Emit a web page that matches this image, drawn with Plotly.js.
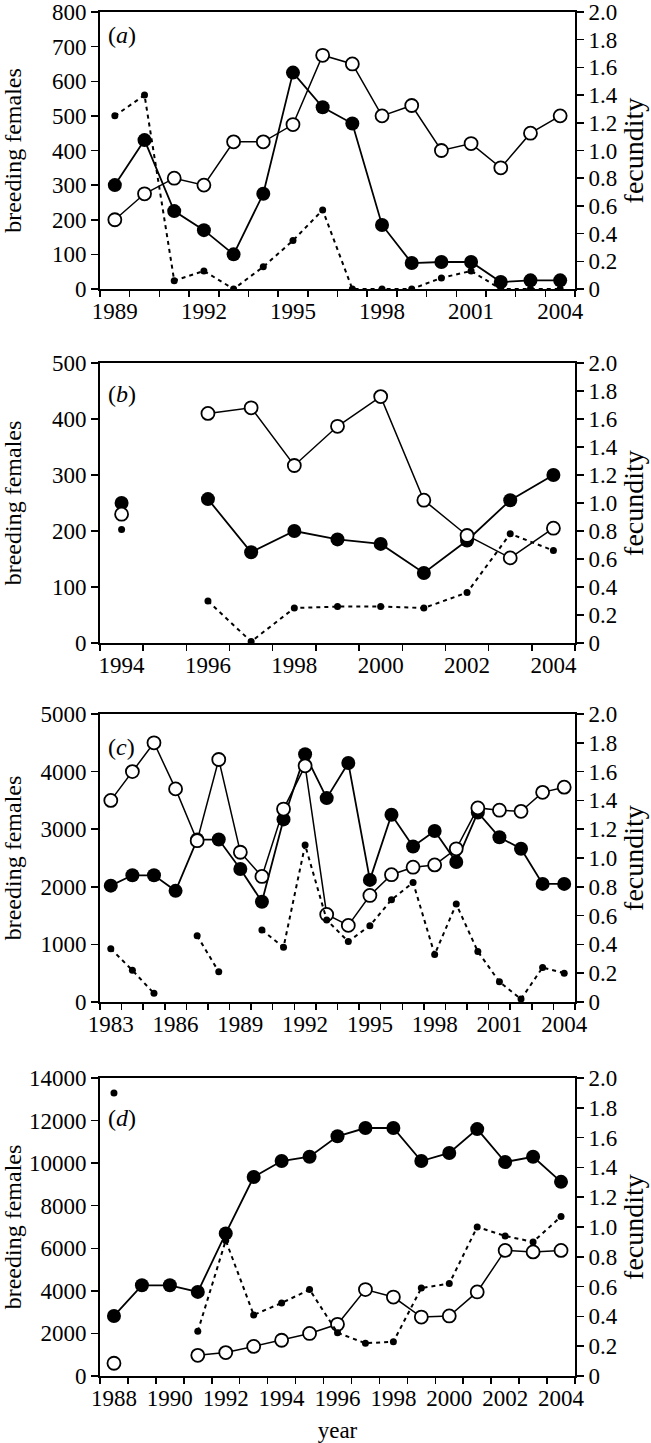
<!DOCTYPE html>
<html>
<head>
<meta charset="utf-8">
<script src="https://cdn.plot.ly/plotly-3.0.1.min.js"></script>
<style>body { margin: 0; background: #fff; }</style>
</head>
<body>
<div id="chart" style="width:651px;height:1443px;"></div>
<script>
// Four panels: breeding females (filled + open circles) and fecundity (dots, dashed).

// (a)
const yearsA = [1989, 1990, 1991, 1992, 1993, 1994, 1995, 1996, 1997, 1998, 1999, 2000, 2001, 2002, 2003, 2004];
const filledA = [300, 430, 225, 170, 100, 275, 625, 525, 478, 185, 75, 78, 78, 20, 25, 25];
const openA   = [200, 275, 320, 300, 425, 425, 475, 675, 650, 500, 530, 400, 420, 350, 450, 500];
const fecA    = [1.25, 1.40, 0.06, 0.13, 0, 0.16, 0.35, 0.57, 0, 0, 0, 0.08, 0.13, 0, 0, 0];

// (b)
const yearsB = [1994, 1995, 1996, 1997, 1998, 1999, 2000, 2001, 2002, 2003, 2004];
const filledB = [250, null, 257, 162, 200, 185, 177, 125, 183, 255, 300];
const openB   = [230, null, 410, 420, 317, 387, 440, 255, 192, 152, 205];
const fecB    = [0.81, null, 0.30, 0.01, 0.25, 0.26, 0.26, 0.25, 0.36, 0.78, 0.66];

// (c)
const yearsC = [1983, 1984, 1985, 1986, 1987, 1988, 1989, 1990, 1991, 1992, 1993, 1994, 1995,
                1996, 1997, 1998, 1999, 2000, 2001, 2002, 2003, 2004];
const filledC = [2020, 2200, 2200, 1930, 2820, 2820, 2310, 1740, 3170, 4300, 3540, 4150, 2120,
                 3250, 2700, 2970, 2430, 3290, 2860, 2660, 2050, 2050];
const openC   = [3500, 4000, 4500, 3700, 2800, 4210, 2600, 2180, 3350, 4100, 1520, 1330, 1850,
                 2210, 2340, 2380, 2660, 3370, 3330, 3310, 3640, 3730];
const fecC    = [0.37, 0.22, 0.06, null, 0.46, 0.21, null, 0.50, 0.38, 1.09, 0.57, 0.42, 0.53,
                 0.71, 0.83, 0.33, 0.68, 0.35, 0.14, 0.02, 0.24, 0.20];

// (d)
const yearsD = [1988, 1989, 1990, 1991, 1992, 1993, 1994, 1995, 1996, 1997, 1998, 1999, 2000,
                2001, 2002, 2003, 2004];
const filledD = [2820, 4260, 4260, 3950, 6700, 9350, 10100, 10300, 11260, 11650, 11650, 10100, 10480,
                 11600, 10050, 10300, 9120];
const openD   = [600, null, null, 970, 1100, 1390, 1680, 2000, 2430, 4060, 3710, 2770, 2820,
                 3950, 5900, 5830, 5900];
const fecD    = [1.90, null, null, 0.30, 0.91, 0.41, 0.49, 0.58, 0.29, 0.22, 0.23, 0.59, 0.62,
                 1.00, 0.94, 0.90, 1.07];

const fecTicks = [0, 0.2, 0.4, 0.6, 0.8, 1.0, 1.2, 1.4, 1.6, 1.8, 2.0];
const fecTickText = ["0", "0.2", "0.4", "0.6", "0.8", "1.0", "1.2", "1.4", "1.6", "1.8", "2.0"];

const FONT = "Liberation Serif";
const BLACK = "#000";

function panelTraces(n, years, filled, open, fec) {
  const xa = n === 1 ? "x" : "x" + n;
  const yl = n === 1 ? "y" : "y" + (2 * n - 1);
  const yr = "y" + (2 * n);
  return [
    { x: years, y: fec, xaxis: xa, yaxis: yr, type: "scatter", mode: "lines+markers",
      line: { color: BLACK, width: 2, dash: "4px,4px" },
      marker: { color: BLACK, size: 7 }, hoverinfo: "skip" },
    { x: years, y: filled, xaxis: xa, yaxis: yl, type: "scatter", mode: "lines+markers",
      line: { color: BLACK, width: 1.8 },
      marker: { color: BLACK, size: 14 }, hoverinfo: "skip" },
    { x: years, y: open, xaxis: xa, yaxis: yl, type: "scatter", mode: "lines+markers",
      line: { color: BLACK, width: 1.5 },
      marker: { color: "#fff", size: 13, line: { color: BLACK, width: 1.8 } }, hoverinfo: "skip" },
  ];
}

const data = [
  ...panelTraces(1, yearsA, filledA, openA, fecA),
  ...panelTraces(2, yearsB, filledB, openB, fecB),
  ...panelTraces(3, yearsC, filledC, openC, fecC),
  ...panelTraces(4, yearsD, filledD, openD, fecD),
];

const tickFont = { family: FONT, size: 23, color: BLACK };
const leftTitleFont = { family: FONT, size: 24, color: BLACK };
const rightTitleFont = { family: FONT, size: 28, color: BLACK };

function xAxis(range, labels, yanchor) {
  return {
    range: range, anchor: yanchor, showgrid: false, zeroline: false,
    showline: true, linecolor: BLACK, linewidth: 2, mirror: true,
    tickmode: "array", tickvals: labels, ticks: "", tickfont: tickFont,
    ticklabeloverflow: "allow",
    minor: { tick0: 0.5, dtick: 1, ticks: "outside", ticklen: 6, tickwidth: 1.5, tickcolor: BLACK },
  };
}
function yLeft(range, dtick, domain, xanchor, standoff) {
  return {
    domain: domain, range: range, dtick: dtick, anchor: xanchor,
    showgrid: false, zeroline: false, showline: true, linecolor: BLACK, linewidth: 2,
    ticks: "outside", ticklen: 7, tickwidth: 1.5, tickcolor: BLACK, tickfont: tickFont,
    tickformat: "d", ticklabeloverflow: "allow",
    title: { text: "breeding females", font: leftTitleFont, standoff: standoff },
  };
}
function yRight(overlay, xanchor) {
  return {
    overlaying: overlay, side: "right", anchor: xanchor, range: [0, 2],
    showgrid: false, zeroline: false, showline: true, linecolor: BLACK, linewidth: 2,
    tickmode: "array", tickvals: fecTicks, ticktext: fecTickText,
    ticks: "outside", ticklen: 7, tickwidth: 1.5, tickcolor: BLACK, tickfont: tickFont,
    ticklabeloverflow: "allow",
    title: { text: "fecundity", font: rightTitleFont, standoff: 4 },
  };
}

const H = 1443, TOP = 12;
// pixel top/bottom of a panel -> y domain
const dom = (top, bottom) => [1 - (bottom - TOP) / (H - TOP), 1 - (top - TOP) / (H - TOP)];

const label = (txt, xref, yref, y) => ({
  text: "(<i>" + txt + "</i>)", xref: xref + " domain", yref: yref + " domain",
  x: 0.012, y: y, xanchor: "left", yanchor: "middle", showarrow: false,
  font: { family: FONT, size: 24, color: BLACK },
});

const layout = {
  width: 651, height: 1443,
  margin: { l: 100, r: 76, t: TOP, b: 0 },
  paper_bgcolor: "#fff", plot_bgcolor: "#fff",
  showlegend: false,
  font: { family: FONT, color: BLACK },

  xaxis:  xAxis([1988.5, 2004.5], [1989, 1992, 1995, 1998, 2001, 2004], "y"),
  yaxis:  yLeft([0, 800], 100, dom(12, 289), "x", 30),
  yaxis2: yRight("y", "x"),

  xaxis2: xAxis([1993.5, 2004.5], [1994, 1996, 1998, 2000, 2002, 2004], "y3"),
  yaxis3: yLeft([0, 500], 100, dom(363, 643), "x2", 30),
  yaxis4: yRight("y3", "x2"),

  xaxis3: xAxis([1982.5, 2004.5], [1983, 1986, 1989, 1992, 1995, 1998, 2001, 2004], "y5"),
  yaxis5: yLeft([0, 5000], 1000, dom(714, 1002), "x3", 18),
  yaxis6: yRight("y5", "x3"),

  xaxis4: Object.assign(
    xAxis([1987.5, 2004.5], [1988, 1990, 1992, 1994, 1996, 1998, 2000, 2002, 2004], "y7"),
    { title: { text: "year", font: { family: FONT, size: 23, color: BLACK }, standoff: 14 } }),
  yaxis7: yLeft([0, 14000], 2000, dom(1078, 1376), "x4", 6),
  yaxis8: yRight("y7", "x4"),

  annotations: [
    label("a", "x", "y", 0.917),
    label("b", "x2", "y3", 0.889),
    label("c", "x3", "y5", 0.885),
    label("d", "x4", "y7", 0.866),
  ],
};

Plotly.newPlot("chart", data, layout, { staticPlot: true, displayModeBar: false });
</script>
</body>
</html>
